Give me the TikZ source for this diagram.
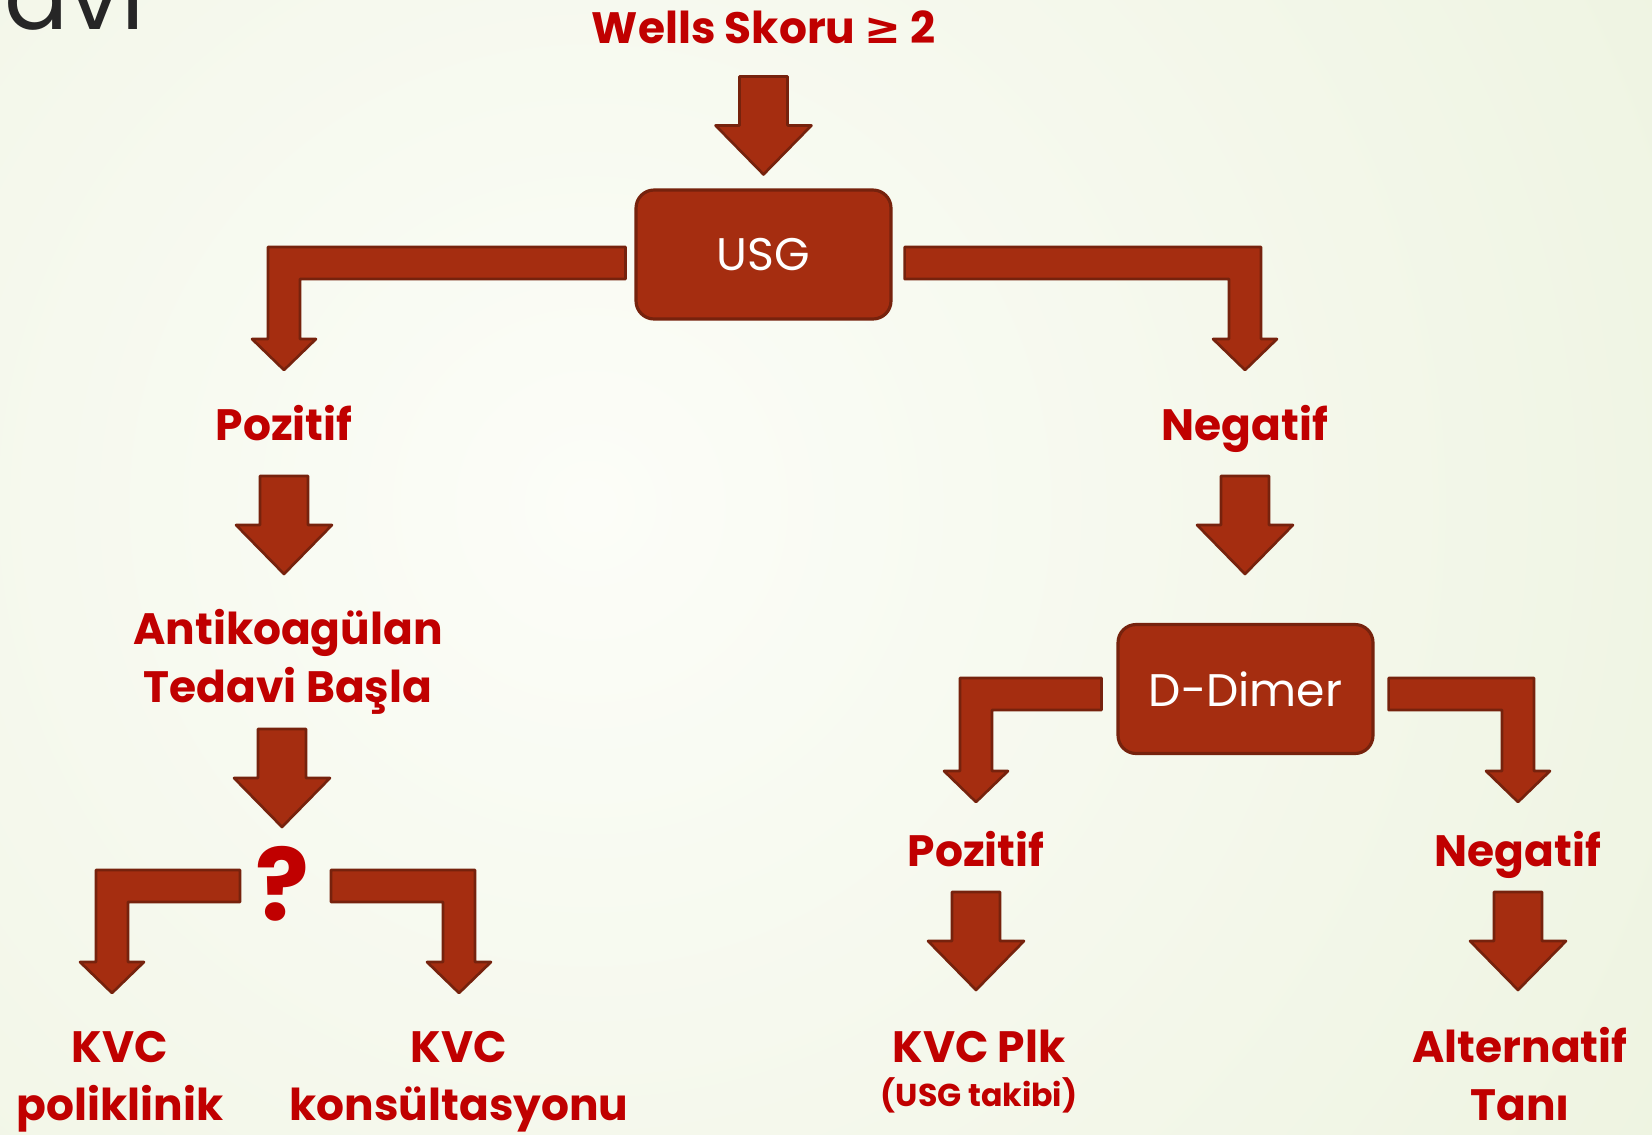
\documentclass[tikz,border=0pt]{standalone}
\usepackage{fontspec}
\setmainfont{Poppins}
\newfontfamily\symfont{DejaVu Sans}
\usetikzlibrary{positioning,calc}

\definecolor{arrowred}{RGB}{165,45,16}
\definecolor{arrowdark}{RGB}{118,34,13}
\definecolor{labelred}{RGB}{192,0,0}
\definecolor{bgcentre}{RGB}{252,253,248}
\definecolor{bgedge}{RGB}{224,234,202}
\definecolor{titlegray}{RGB}{38,38,38}

\tikzset{
    arrowshape/.style = {fill=arrowred, draw=arrowdark, line width=1.5pt, line join=round},
    pics/downarr/.style = {code={
        \draw[arrowshape] (0,0) -- (-48,-49) -- (-24,-49) -- (-24,-98) -- (24,-98) -- (24,-49) -- (48,-49) -- cycle;
    }}
}

% elbow arrow: #1 band end, #2 tip, #3 direction (1 right, -1 left)
\newcommand{\elbowarrow}[3]{%
    \draw[arrowshape] ($(#1)+(0,-16)$) -- ($(#2 |- #1)+({#3*16},-16)$) -- ($(#2)+({#3*16},-31)$)
        -- ($(#2)+({#3*32},-31)$) -- (#2) -- ($(#2)+({#3*(-32)},-31)$) -- ($(#2)+({#3*(-16)},-31)$)
        -- ($(#2 |- #1)+({#3*(-16)},16)$) -- ($(#1)+(0,16)$) -- cycle;}

\begin{document}
\begin{tikzpicture}[
    x=0.02cm, y=-0.02cm,
    box/.style = {rectangle, rounded corners=0.36cm, fill=arrowred, draw=arrowdark, line width=1.8pt, minimum width=5.1cm, minimum height=2.58cm, text=white, font=\fontsize{26}{30}\selectfont},
    lbl/.style = {text=labelred, font=\bfseries\fontsize{25}{33}\selectfont, inner sep=0pt, align=center, anchor=base}
]
    \useasboundingbox (0,0) rectangle (1652,1134);

    % background
    \begin{scope}
        \clip (0,0) rectangle (1652,1134);
        \shade[inner color=bgcentre, outer color=bgedge] (590,505) circle (50cm);
    \end{scope}
    \node[anchor=base west, inner sep=0pt, text=titlegray, font=\fontsize{54}{60}\selectfont] (title) at (4,29) {avi};

    % boxes
    \node[box] (usg) at (763.5,254.5) {USG};
    \node[box] (dd) at (1245.5,689) {D-Dimer};

    % labels (base = last line)
    \node[lbl] (wells) at (764,43) {Wells Skoru {\symfont ≥} 2};
    \node[lbl] (pos1) at (284,440) {Pozitif};
    \node[lbl] (neg1) at (1245,440) {Negatif};
    \node[lbl] (antiko) at (288,702) {Antikoagülan\\Tedavi Başla};
    \node[lbl, font=\bfseries\fontsize{57}{60}\selectfont] (quest) at (282,920) {?};
    \node[lbl] (kvc1) at (120,1120) {KVC\\poliklinik};
    \node[lbl] (kvc2) at (459,1120) {KVC\\konsültasyonu};
    \node[lbl] (pos2) at (976,866) {Pozitif};
    \node[lbl] (neg2) at (1518,866) {Negatif};
    \node[lbl] (plk) at (979,1106) {KVC Plk\\[-8pt]{\fontsize{18}{22}\selectfont(USG takibi)}};
    \node[lbl] (alt) at (1520,1120) {Alternatif\\Tanı};

    % straight arrows
    \pic at ($(usg.north)+(0,-14)$) {downarr};
    \pic at ($(pos1.base)+(0,134)$) {downarr};
    \pic at ($(neg1.base)+(0,134)$) {downarr};
    \pic at ($(quest.base)+(0,-93)$) {downarr};
    \pic at ($(pos2.base)+(0,124)$) {downarr};
    \pic at ($(neg2.base)+(0,124)$) {downarr};

    % elbow arrows
    \coordinate (usgL) at ($(usg.west)+(-9,8.5)$);
    \coordinate (usgR) at ($(usg.east)+(12,8.5)$);
    \coordinate (ddL) at ($(dd.west)+(-15,5)$);
    \coordinate (ddR) at ($(dd.east)+(14,5)$);
    \coordinate (questL) at ($(quest.base)+(-42,-34)$);
    \coordinate (questR) at ($(quest.base)+(49,-34)$);
    \coordinate (pos1tip) at ($(pos1.base)+(0,-70)$);
    \coordinate (neg1tip) at ($(neg1.base)+(0,-70)$);
    \coordinate (pos2tip) at ($(pos2.base)+(0,-64)$);
    \coordinate (neg2tip) at ($(neg2.base)+(0,-64)$);
    \coordinate (kvc1tip) at ($(kvc1.base)+(-8,-127)$);
    \coordinate (kvc2tip) at ($(kvc2.base)+(0,-127)$);
    \elbowarrow{usgL}{pos1tip}{-1}
    \elbowarrow{usgR}{neg1tip}{1}
    \elbowarrow{ddL}{pos2tip}{-1}
    \elbowarrow{ddR}{neg2tip}{1}
    \elbowarrow{questL}{kvc1tip}{-1}
    \elbowarrow{questR}{kvc2tip}{1}
\end{tikzpicture}
\end{document}
